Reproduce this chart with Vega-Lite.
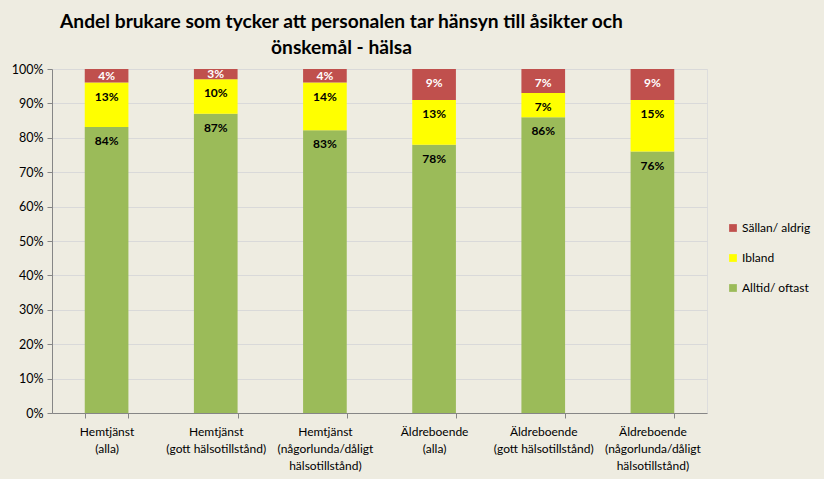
{
  "$schema": "https://vega.github.io/schema/vega-lite/v6.json",
  "width": 655,
  "height": 344,
  "autosize": {"type": "none"},
  "padding": {"left": 52, "top": 69, "right": 117, "bottom": 66},
  "background": "#EEECE1",
  "title": {
    "text": ["Andel brukare som tycker att personalen tar hänsyn till åsikter och", "önskemål - hälsa"],
    "font": "Lato",
    "fontSize": 19.2,
    "fontWeight": "bold",
    "color": "#000000",
    "anchor": "middle",
    "dx": -38,
    "offset": 5,
    "lineHeight": 26
  },
  "data": {
    "values": [
      {"cat": "Hemtjänst|(alla)", "ci": 1, "resp": "Alltid/ oftast", "o": 1, "value": 0.84},
      {"cat": "Hemtjänst|(alla)", "ci": 1, "resp": "Ibland", "o": 2, "value": 0.13},
      {"cat": "Hemtjänst|(alla)", "ci": 1, "resp": "Sällan/ aldrig", "o": 3, "value": 0.04},
      {"cat": "Hemtjänst|(gott hälsotillstånd)", "ci": 2, "resp": "Alltid/ oftast", "o": 1, "value": 0.87},
      {"cat": "Hemtjänst|(gott hälsotillstånd)", "ci": 2, "resp": "Ibland", "o": 2, "value": 0.10},
      {"cat": "Hemtjänst|(gott hälsotillstånd)", "ci": 2, "resp": "Sällan/ aldrig", "o": 3, "value": 0.03},
      {"cat": "Hemtjänst|(någorlunda/dåligt|hälsotillstånd)", "ci": 3, "resp": "Alltid/ oftast", "o": 1, "value": 0.83},
      {"cat": "Hemtjänst|(någorlunda/dåligt|hälsotillstånd)", "ci": 3, "resp": "Ibland", "o": 2, "value": 0.14},
      {"cat": "Hemtjänst|(någorlunda/dåligt|hälsotillstånd)", "ci": 3, "resp": "Sällan/ aldrig", "o": 3, "value": 0.04},
      {"cat": "Äldreboende|(alla)", "ci": 4, "resp": "Alltid/ oftast", "o": 1, "value": 0.78},
      {"cat": "Äldreboende|(alla)", "ci": 4, "resp": "Ibland", "o": 2, "value": 0.13},
      {"cat": "Äldreboende|(alla)", "ci": 4, "resp": "Sällan/ aldrig", "o": 3, "value": 0.09},
      {"cat": "Äldreboende|(gott hälsotillstånd)", "ci": 5, "resp": "Alltid/ oftast", "o": 1, "value": 0.86},
      {"cat": "Äldreboende|(gott hälsotillstånd)", "ci": 5, "resp": "Ibland", "o": 2, "value": 0.07},
      {"cat": "Äldreboende|(gott hälsotillstånd)", "ci": 5, "resp": "Sällan/ aldrig", "o": 3, "value": 0.07},
      {"cat": "Äldreboende|(någorlunda/dåligt|hälsotillstånd)", "ci": 6, "resp": "Alltid/ oftast", "o": 1, "value": 0.76},
      {"cat": "Äldreboende|(någorlunda/dåligt|hälsotillstånd)", "ci": 6, "resp": "Ibland", "o": 2, "value": 0.15},
      {"cat": "Äldreboende|(någorlunda/dåligt|hälsotillstånd)", "ci": 6, "resp": "Sällan/ aldrig", "o": 3, "value": 0.09}
    ]
  },
  "transform": [
    {"stack": "value", "groupby": ["cat"], "sort": [{"field": "o", "order": "ascending"}], "offset": "normalize", "as": ["v0", "v1"]},
    {"calculate": "(datum.v0 + datum.v1) / 2", "as": "vmid"}
  ],
  "encoding": {
    "x": {
      "field": "cat",
      "type": "nominal",
      "sort": {"field": "ci"},
      "scale": {"paddingInner": 0.6, "paddingOuter": 0.3},
      "axis": {
        "title": null,
        "labelAngle": 0,
        "labelExpr": "split(datum.label, '|')",
        "labelFont": "Lato",
        "labelFontSize": 12,
        "labelColor": "#000000",
        "labelLineHeight": 17,
        "labelPadding": 8,
        "tickBand": "extent",
        "tickColor": "#868686",
        "tickSize": 5,
        "domainColor": "#868686",
        "grid": false
      }
    },
    "y": {
      "field": "v1",
      "type": "quantitative",
      "scale": {"domain": [0, 1], "nice": false},
      "axis": {
        "title": null,
        "format": ".0%",
        "values": [0, 0.1, 0.2, 0.3, 0.4, 0.5, 0.6, 0.7, 0.8, 0.9, 1],
        "labelOverlap": false,
        "labelFont": "Lato",
        "labelFontSize": 12.5,
        "labelColor": "#000000",
        "labelPadding": 4,
        "tickColor": "#868686",
        "tickSize": 5,
        "domainColor": "#868686",
        "gridColor": "#D9D9D9",
        "gridWidth": 1
      }
    }
  },
  "layer": [
    {
      "mark": {"type": "bar"},
      "encoding": {
        "y2": {"field": "v0"},
        "color": {
          "field": "resp",
          "type": "nominal",
          "scale": {
            "domain": ["Sällan/ aldrig", "Ibland", "Alltid/ oftast"],
            "range": ["#C0504D", "#FFFF00", "#9BBB59"]
          },
          "legend": {
            "title": null,
            "orient": "none",
            "legendX": 675,
            "legendY": 153,
            "symbolType": "square",
            "symbolSize": 60,
            "symbolStrokeWidth": 0,
            "labelFont": "Lato",
            "labelFontSize": 12,
            "labelColor": "#000000",
            "rowPadding": 18,
            "labelOffset": 3
          }
        }
      }
    },
    {
      "transform": [{"filter": "datum.value >= 0.05"}],
      "mark": {"type": "text", "font": "Lato", "fontSize": 12, "fontWeight": "bold", "baseline": "middle", "dy": 14},
      "encoding": {
        "text": {"field": "value", "type": "quantitative", "format": ".0%"},
        "color": {
          "condition": {"test": "datum.o == 3", "value": "#FFFFFF"},
          "value": "#000000"
        }
      }
    },
    {
      "transform": [{"filter": "datum.value < 0.05"}],
      "mark": {"type": "text", "font": "Lato", "fontSize": 12, "fontWeight": "bold", "baseline": "middle", "dy": 0},
      "encoding": {
        "y": {"field": "vmid", "type": "quantitative"},
        "text": {"field": "value", "type": "quantitative", "format": ".0%"},
        "color": {
          "condition": {"test": "datum.o == 3", "value": "#FFFFFF"},
          "value": "#000000"
        }
      }
    }
  ]
}
